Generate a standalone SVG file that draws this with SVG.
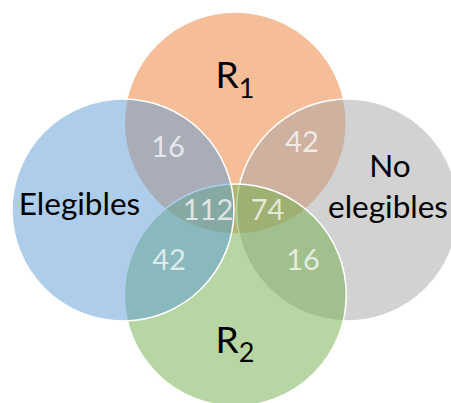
<svg xmlns="http://www.w3.org/2000/svg" width="451" height="403" viewBox="0 0 451 403">
<style>
.c{stroke:#FFFFFF;stroke-width:1.5;fill-opacity:0.5}
.lbl{font-family:Lato,"Liberation Sans",sans-serif;fill:#000000;text-anchor:middle}
.num{font-family:Lato,"Liberation Sans",sans-serif;fill:#FFFFFF;fill-opacity:0.72;text-anchor:middle;font-size:29px}
</style>
<rect width="451" height="403" fill="#FFFFFF"/>
<g id="r1">
<circle class="c" cx="235.3" cy="123" r="111" fill="#ED7D31"/>
</g>
<g id="no-elegibles">
<circle class="c" cx="347.5" cy="210" r="111" fill="#A5A5A5"/>
</g>
<g id="r2">
<circle class="c" cx="235.3" cy="295" r="111" fill="#70AD47"/>
</g>
<g id="elegibles">
<circle class="c" cx="123" cy="210" r="111" fill="#5B9BD5"/>
</g>
<g id="labels">
<text class="lbl" x="235" y="88" font-size="37">R<tspan font-size="27" dy="10">1</tspan></text>
<text class="lbl" x="235" y="353" font-size="37">R<tspan font-size="27" dy="9">2</tspan></text>
<text class="lbl" x="79.5" y="215" font-size="31.5">Elegibles</text>
<text class="lbl" x="390" y="177" font-size="31.5">No</text>
<text class="lbl" x="388" y="218" font-size="31.5">elegibles</text>
</g>
<g id="counts">
<text class="num" x="168" y="157">16</text>
<text class="num" x="302" y="152">42</text>
<text class="num" x="208" y="220">112</text>
<text class="num" x="267.5" y="220">74</text>
<text class="num" x="169" y="270">42</text>
<text class="num" x="303" y="270">16</text>
</g>
<g id="connectors"/>
</svg>
